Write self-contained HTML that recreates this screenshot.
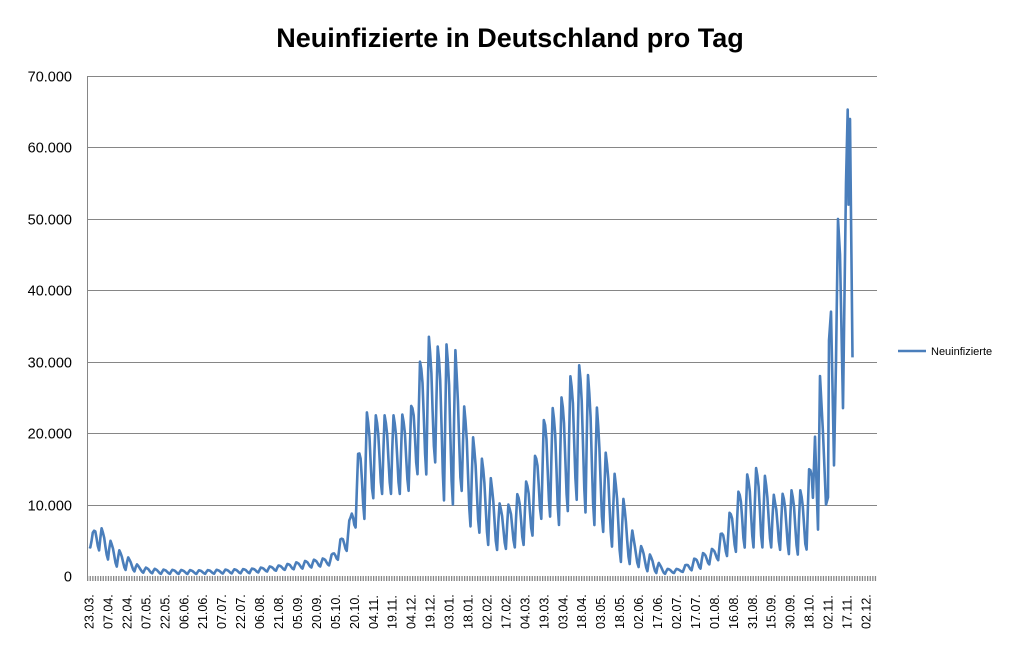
<!DOCTYPE html>
<html><head><meta charset="utf-8"><style>
html,body{margin:0;padding:0;background:#fff;}
svg{display:block;font-family:"Liberation Sans",sans-serif;}
</style></head><body>
<svg id="s" width="1014" height="649" xmlns="http://www.w3.org/2000/svg">
<rect width="1014" height="649" fill="#fff"/>
<text x="510" y="47" text-anchor="middle" font-size="27" font-weight="bold" fill="#000">Neuinfizierte in Deutschland pro Tag</text>
<g id="grid" stroke="#868686" stroke-width="1"></g>
<line x1="87.5" y1="76" x2="87.5" y2="577" stroke="#868686"/>
<line x1="87" y1="578.5" x2="877" y2="578.5" stroke="#868686" stroke-width="5" stroke-dasharray="1.3,1.3"/>
<g id="yl" font-size="14.5" fill="#000" text-anchor="end"></g>
<g id="xl" font-size="12.5" fill="#000"></g>
<path id="p" fill="none" stroke="#4a7ebb" stroke-width="2.6" stroke-linejoin="round"/>
<line x1="898" y1="351" x2="926" y2="351" stroke="#4a7ebb" stroke-width="2.6"/>
<text x="931" y="355" font-size="11" fill="#000">Neuinfizierte</text>
</svg>
<script>
var NS="http://www.w3.org/2000/svg";
function Y(v){return 576-v*500/70;}
var g=document.getElementById('grid'),yl=document.getElementById('yl'),xl=document.getElementById('xl');
var ylab=["0","10.000","20.000","30.000","40.000","50.000","60.000","70.000"];
for(var i=0;i<=7;i++){var y=Math.round(Y(i*10))+0.5;
 if(i>0){var l=document.createElementNS(NS,'line');l.setAttribute('x1',87);l.setAttribute('x2',877);l.setAttribute('y1',y);l.setAttribute('y2',y);g.appendChild(l);}
 var t=document.createElementNS(NS,'text');t.setAttribute('x',72);t.setAttribute('y',y+5);t.textContent=ylab[i];yl.appendChild(t);}
var xs="23.03.,07.04.,22.04.,07.05.,22.05.,06.06.,21.06.,07.07.,22.07.,06.08.,21.08.,05.09.,20.09.,05.10.,20.10.,04.11.,19.11.,04.12.,19.12.,03.01.,18.01.,02.02.,17.02.,04.03.,19.03.,03.04.,18.04.,03.05.,18.05.,02.06.,17.06.,02.07.,17.07.,01.08.,16.08.,31.08.,15.09.,30.09.,18.10.,02.11.,17.11.,02.12.".split(",");
for(var i=0;i<xs.length;i++){var x=89+i*18.95+4.5;var t=document.createElementNS(NS,'text');
 t.setAttribute('transform','translate('+x+',629) rotate(-90)');t.textContent=xs[i];xl.appendChild(t);}
var env=[[89,4.5,4],[95,7,4],[100,7,3.5],[110,5,2],[120,3.5,1],[140,1.3,0.5],[160,0.9,0.3],[200,0.8,0.3],[250,1.0,0.4],[280,1.5,0.8],[300,2,1],[330,2.6,1.5],[340,5,2.5],[350,8,4],[358,17,8],[365,23,8],[375,22.5,11.5],[400,22.5,11.5],[410,23,12],[420,30,15],[428,33.7,14],[435,32,16],[445,32.5,10],[455,32,10],[462,25,12],[470,20.5,7],[480,17,6],[490,14,4],[500,10,3.5],[510,10,4],[520,12,4],[530,14,5],[545,22.5,9],[560,24.5,7],[575,29.5,11],[585,29.5,9],[595,25,7],[605,17.5,6],[620,12.5,2],[635,5,1.5],[650,3,0.5],[665,1,0.3],[680,1,0.5],[700,3,1],[715,4,2],[730,9,3],[745,14,4],[760,15.5,4],[775,11,4],[790,12,3],[805,12,3],[812,17,6]];
function interp(x,k){for(var i=0;i<env.length-1;i++){if(x<=env[i+1][0]){var a=env[i],b=env[i+1];var f=(x-a[0])/(b[0]-a[0]);return a[k]+(b[k]-a[k])*f;}}return env[env.length-1][k];}
var w=[0.15,0.0,0.55,1,0.9,0.75,0.45];
var d="";
for(var day=0;;day++){var x=89+day*1.2634;if(x>813)break;
 var mx=interp(x,1),mn=interp(x,2);var v=mn+(mx-mn)*w[day%7];
 d+=(d?"L":"M")+x.toFixed(1)+","+Y(v).toFixed(1);}
var tail=[[815,19.5],[818,6.5],[820,28],[823,20],[826,10],[828,11],[829,33],[831,37],[833,23],[834,15.5],[836,30],[838,50],[840,45],[843,23.5],[846,55],[847.7,65.3],[848.5,52],[850,64],[852.5,30.6]];
tail.forEach(function(p){d+="L"+p[0]+","+Y(p[1]).toFixed(1);});
document.getElementById('p').setAttribute('d',d);
</script>
</body></html>
